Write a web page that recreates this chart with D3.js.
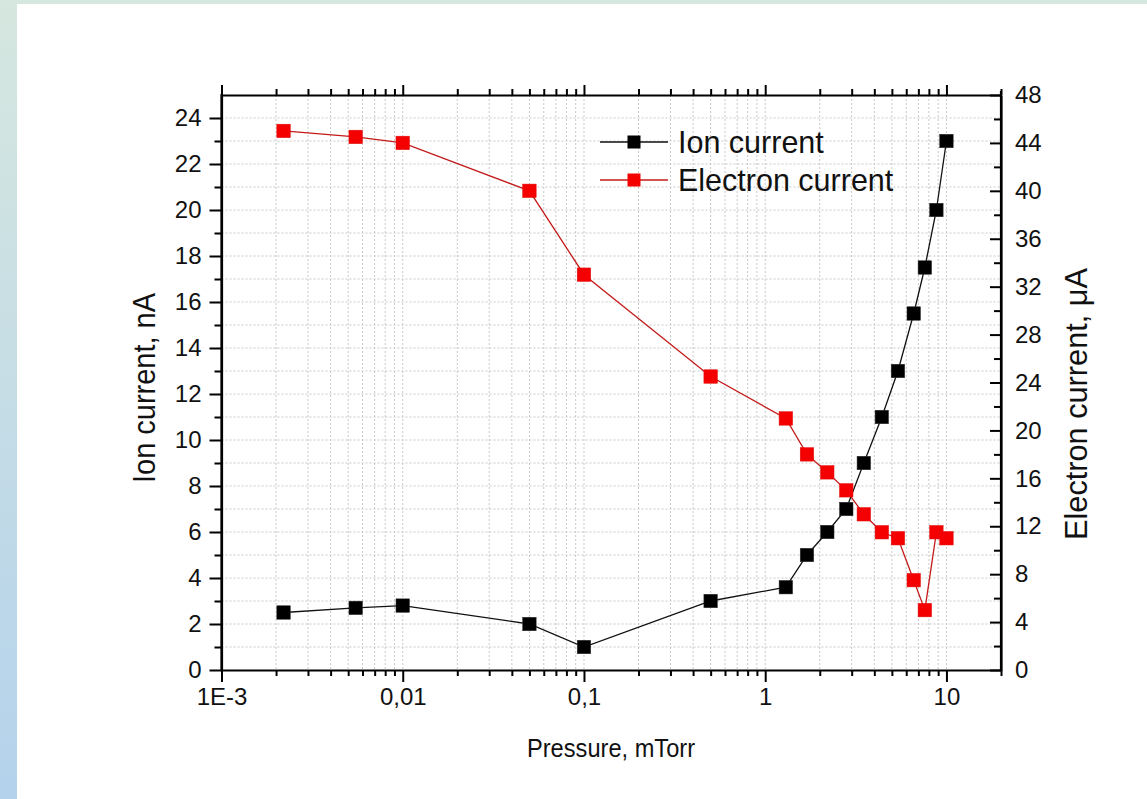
<!DOCTYPE html>
<html>
<head>
<meta charset="utf-8">
<script src="https://cdn.jsdelivr.net/npm/d3@7"></script>
<style>
  html, body { margin: 0; padding: 0; background: #fff; }
  svg { display: block; }
  text { font-family: "Liberation Sans", Arial, sans-serif; fill: #111; }
</style>
</head>
<body>
<svg id="chart" width="1147" height="799"></svg>
<script>
// ---- data ----
const pressure = [0.0022, 0.0055, 0.01, 0.05, 0.1, 0.5, 1.3, 1.7, 2.2, 2.8, 3.5, 4.4, 5.4, 6.6, 7.6, 8.8, 10];
const ionCurrent = [2.5, 2.7, 2.8, 2.0, 1.0, 3.0, 3.6, 5.0, 6.0, 7.0, 9.0, 11.0, 13.0, 15.5, 17.5, 20.0, 23.0];
const electronCurrent = [45, 44.5, 44, 40, 33, 24.5, 21, 18, 16.5, 15, 13, 11.5, 11, 7.5, 5, 11.5, 11];
const xTickValues = [0.001, 0.01, 0.1, 1, 10];
const xTickLabels = ["1E-3", "0,01", "0,1", "1", "10"];
const leftTicks = [0, 2, 4, 6, 8, 10, 12, 14, 16, 18, 20, 22, 24];
const rightTicks = [0, 4, 8, 12, 16, 20, 24, 28, 32, 36, 40, 44, 48];
const seriesNames = ["Ion current", "Electron current"];

const W = 1147, H = 799;
const svg = d3.select("#chart");

// background
const defs = svg.append("defs");
const grad = defs.append("linearGradient").attr("id", "bgGrad")
  .attr("x1", 0).attr("y1", 0).attr("x2", 0).attr("y2", 1);
grad.append("stop").attr("offset", "0%").attr("stop-color", "#d6e7df");
grad.append("stop").attr("offset", "100%").attr("stop-color", "#b4d2ec");
svg.append("rect").attr("width", W).attr("height", H).attr("fill", "url(#bgGrad)");
svg.append("rect").attr("x", 17).attr("y", 4).attr("width", W - 17).attr("height", H - 4).attr("fill", "#fff");

const L = 221.5, R = 1001, T = 95, B = 670;

const x = d3.scaleLog().domain([0.001, 20]).range([L, R]);
const yL = d3.scaleLinear().domain([0, 25]).range([B, T]);
const yR = d3.scaleLinear().domain([0, 48]).range([B, T]);

// minor log ticks
const logTicks = [];
for (let e = -3; e <= 1; e++) {
  for (let m = 1; m <= 9; m++) {
    const v = m * Math.pow(10, e);
    if (v <= 20) logTicks.push(v);
  }
}
const logMinor = logTicks.filter(v => !xTickValues.some(t => Math.abs(t - v) / t < 1e-9));

// grid
const grid = svg.append("g").attr("stroke", "#c8c8c8").attr("stroke-width", 1).attr("stroke-dasharray", "2,2");
logTicks.filter(v => v > 0.001 && v < 20).forEach(v => {
  grid.append("line").attr("x1", x(v)).attr("x2", x(v)).attr("y1", T).attr("y2", B);
});
d3.range(1, 25).forEach(v => {
  grid.append("line").attr("x1", L).attr("x2", R).attr("y1", yL(v)).attr("y2", yL(v));
});

// axes
const FONT = '"Liberation Sans", Arial, sans-serif';
const axStyle = g => {
  g.attr("font-family", FONT);
  g.selectAll("path").attr("stroke", "#000").attr("stroke-width", 2.2);
  g.selectAll("line").attr("stroke", "#000").attr("stroke-width", 2);
  g.selectAll("text").attr("fill", "#111");
};

// bottom
const gB = svg.append("g").attr("transform", `translate(0,${B})`);
gB.call(d3.axisBottom(x).tickValues(xTickValues).tickFormat((d, i) => xTickLabels[i]).tickSize(12).tickSizeOuter(0).tickPadding(6))
  .call(axStyle);
gB.attr("font-size", 24);
const gBm = svg.append("g").attr("transform", `translate(0,${B})`);
gBm.call(d3.axisBottom(x).tickValues(logMinor).tickFormat("").tickSize(6).tickSizeOuter(0)).call(axStyle);
gBm.select("path").remove();

// top
const gT = svg.append("g").attr("transform", `translate(0,${T})`);
gT.call(d3.axisTop(x).tickValues(xTickValues).tickFormat("").tickSize(10).tickSizeOuter(0)).call(axStyle);
const gTm = svg.append("g").attr("transform", `translate(0,${T})`);
gTm.call(d3.axisTop(x).tickValues(logMinor).tickFormat("").tickSize(6).tickSizeOuter(0)).call(axStyle);
gTm.select("path").remove();

// left
const gL = svg.append("g").attr("transform", `translate(${L},0)`);
gL.call(d3.axisLeft(yL).tickValues(leftTicks).tickSize(12).tickSizeOuter(0).tickPadding(8)).call(axStyle);
gL.attr("font-size", 24);
const gLm = svg.append("g").attr("transform", `translate(${L},0)`);
gLm.call(d3.axisLeft(yL).tickValues(d3.range(1, 25, 2)).tickFormat("").tickSize(7).tickSizeOuter(0)).call(axStyle);
gLm.select("path").remove();

// right
const gR = svg.append("g").attr("transform", `translate(${R},0)`);
gR.call(d3.axisRight(yR).tickValues(rightTicks).tickSize(-11).tickSizeOuter(0).tickPadding(14)).call(axStyle);
gR.attr("font-size", 24);
const gRm = svg.append("g").attr("transform", `translate(${R},0)`);
gRm.call(d3.axisRight(yR).tickValues(d3.range(2, 48, 4)).tickFormat("").tickSize(-7).tickSizeOuter(0)).call(axStyle);
gRm.select("path").remove();
// axis lines slightly beyond corners
svg.append("line").attr("x1", L).attr("x2", L).attr("y1", T - 1).attr("y2", B + 1).attr("stroke", "#000").attr("stroke-width", 2.2);
svg.append("line").attr("x1", R).attr("x2", R).attr("y1", T - 4).attr("y2", B + 1).attr("stroke", "#000").attr("stroke-width", 2.2);

// axis titles
svg.append("text").attr("transform", `translate(155,388) rotate(-90)`)
  .attr("text-anchor", "middle").style("font-size", "31px")
  .attr("textLength", 190).attr("lengthAdjust", "spacingAndGlyphs").text("Ion current, nA");
svg.append("text").attr("transform", `translate(1087,404) rotate(-90)`)
  .attr("text-anchor", "middle").style("font-size", "31px")
  .attr("textLength", 272).attr("lengthAdjust", "spacingAndGlyphs").text("Electron current, μA");
svg.append("text").attr("x", 611).attr("y", 757)
  .attr("text-anchor", "middle").style("font-size", "26px")
  .attr("textLength", 168).attr("lengthAdjust", "spacingAndGlyphs").text("Pressure, mTorr");

// series
const ionData = pressure.map((p, i) => ({ p, v: ionCurrent[i] }));
const eData = pressure.map((p, i) => ({ p, v: electronCurrent[i] }));

const lineIon = d3.line().x(d => x(d.p)).y(d => yL(d.v));
const lineE = d3.line().x(d => x(d.p)).y(d => yR(d.v));

svg.append("path").datum(eData).attr("d", lineE).attr("fill", "none").attr("stroke", "#c41a1a").attr("stroke-width", 1.3);
svg.append("path").datum(ionData).attr("d", lineIon).attr("fill", "none").attr("stroke", "#111").attr("stroke-width", 1.3);

const S = 13.5;
svg.append("g").selectAll("rect").data(eData).join("rect")
  .attr("x", d => x(d.p) - S / 2).attr("y", d => yR(d.v) - S / 2)
  .attr("width", S).attr("height", S).attr("fill", "#f50000").attr("stroke", "#e01010").attr("stroke-width", 0.5);
svg.append("g").selectAll("rect").data(ionData).join("rect")
  .attr("x", d => x(d.p) - S / 2).attr("y", d => yL(d.v) - S / 2)
  .attr("width", S).attr("height", S).attr("fill", "#000").attr("stroke", "#333").attr("stroke-width", 0.5);

// legend
const leg = svg.append("g");
const legY = [142, 180];
const legColors = [["#111", "#000"], ["#c41a1a", "#f50000"]];
seriesNames.forEach((name, i) => {
  leg.append("line").attr("x1", 600).attr("x2", 668).attr("y1", legY[i]).attr("y2", legY[i])
    .attr("stroke", legColors[i][0]).attr("stroke-width", 1.3);
  leg.append("rect").attr("x", 634 - 6.5).attr("y", legY[i] - 6.5).attr("width", 13).attr("height", 13)
    .attr("fill", legColors[i][1]);
  leg.append("text").attr("x", 678).attr("y", legY[i]).attr("dy", "0.36em")
    .style("font-size", "30.5px").text(name);
});
</script>
</body>
</html>
